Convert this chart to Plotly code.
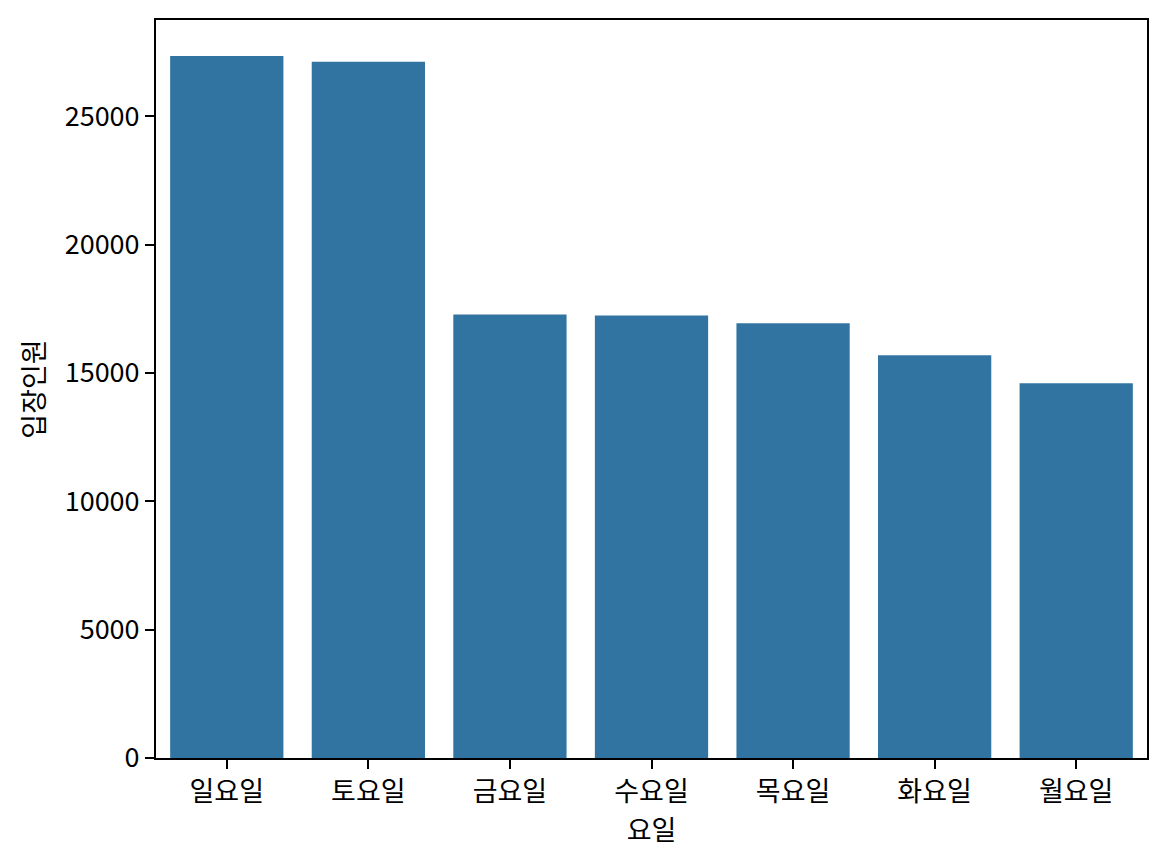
import plotly.graph_objects as go

days = ["일요일", "토요일", "금요일", "수요일", "목요일", "화요일", "월요일"]
visitors = [27352, 27119, 17282, 17243, 16932, 15688, 14600]
y_ticks = [0, 5000, 10000, 15000, 20000, 25000]

FONT = "Noto Sans CJK KR"
FS = 27

fig = go.Figure(
    go.Bar(
        x=days,
        y=visitors,
        marker=dict(color="#3274a1", line=dict(width=0)),
        width=0.8,
    )
)

fig.update_layout(
    width=1159,
    height=859,
    margin=dict(l=148, r=20, t=10, b=109),
    paper_bgcolor="white",
    plot_bgcolor="white",
    font=dict(family=FONT, size=FS, color="black"),
    showlegend=False,
)

fig.update_xaxes(
    range=[-0.5, 6.5],
    showline=True,
    linecolor="black",
    linewidth=2,
    mirror=True,
    ticks="outside",
    ticklen=9,
    tickwidth=2,
    tickcolor="black",
    showgrid=False,
    tickfont=dict(family=FONT, size=FS),
    title=dict(text="요일", font=dict(family=FONT, size=FS), standoff=6),
)

fig.update_yaxes(
    range=[0, 28750],
    tickvals=y_ticks,
    ticktext=[str(v) for v in y_ticks],
    showline=True,
    linecolor="black",
    linewidth=2,
    mirror=True,
    ticks="outside",
    ticklen=9,
    tickwidth=2,
    tickcolor="black",
    showgrid=False,
    zeroline=False,
    tickfont=dict(family=FONT, size=FS),
    title=dict(text="입장인원", font=dict(family=FONT, size=FS), standoff=12),
)

fig.write_html("out.html")
